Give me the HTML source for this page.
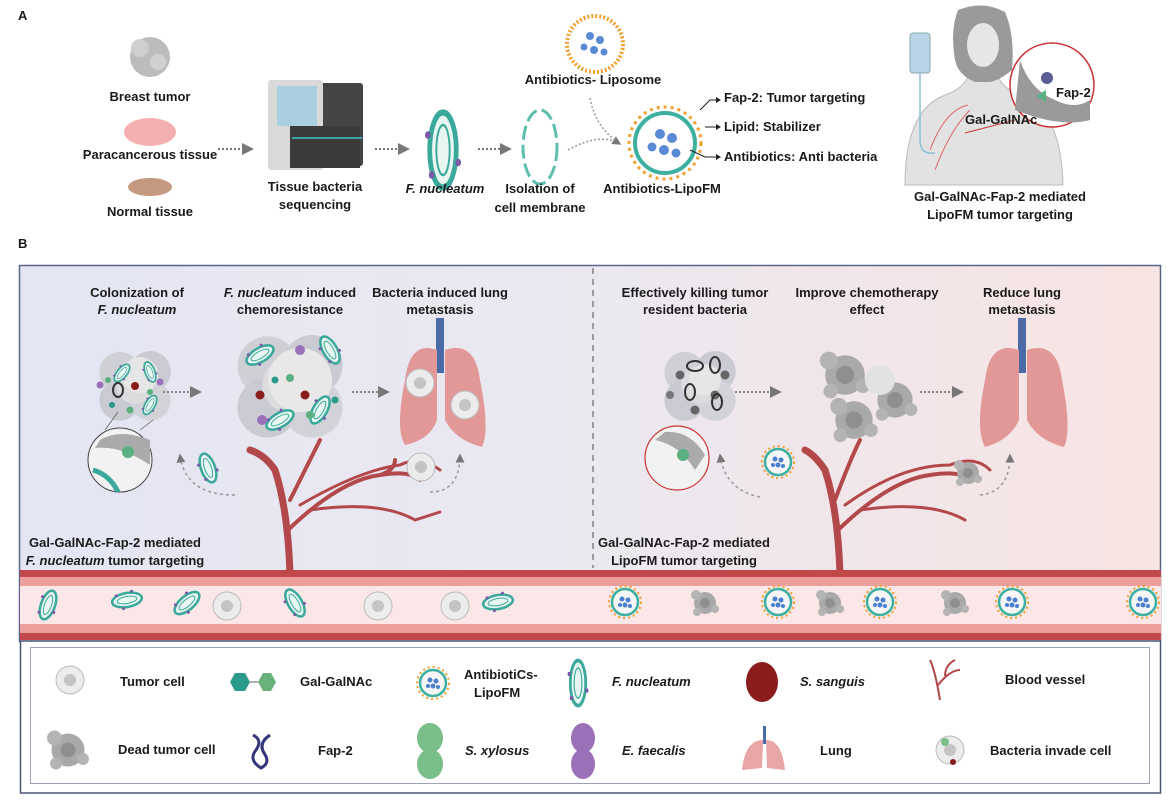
<!DOCTYPE html>
<html><head><meta charset="utf-8"><style>
html,body{margin:0;padding:0;background:#fff}
body{width:1171px;height:812px;overflow:hidden;position:relative;font-family:"Liberation Sans",sans-serif}
svg{position:absolute;left:0;top:0}
text{font-family:"Liberation Sans",sans-serif;font-weight:bold;font-size:13px;fill:#1a1a1a}
.i{font-style:italic}
</style></head><body>
<svg width="1171" height="812" viewBox="0 0 1171 812">
<defs>
<linearGradient id="bg" x1="0" x2="1" y1="0" y2="0">
<stop offset="0" stop-color="#e4e6f4"/><stop offset="0.5" stop-color="#ebe8f0"/><stop offset="1" stop-color="#f8e4e2"/>
</linearGradient>
<marker id="ar" markerWidth="6" markerHeight="6" refX="5" refY="3" orient="auto"><path d="M0,0 L6,3 L0,6z" fill="#777"/></marker>
<g id="bact"><ellipse cx="0" cy="0" rx="7" ry="15" fill="#e8f6f2" stroke="#3aa89a" stroke-width="2.5"/><ellipse cx="0" cy="0" rx="3.5" ry="10" fill="none" stroke="#3aa89a" stroke-width="1"/><circle cx="-8" cy="-6" r="1.5" fill="#7a5aa8"/><circle cx="8" cy="5" r="1.5" fill="#7a5aa8"/><circle cx="-6" cy="10" r="1.5" fill="#7a5aa8"/></g>
<g id="lipo"><circle r="13" fill="#f6f6f6" stroke="#3db0a0" stroke-width="2.5"/><circle r="16" fill="none" stroke="#f2a030" stroke-width="2" stroke-dasharray="2 3"/><circle cx="-3" cy="-3" r="2.5" fill="#4a7fd0"/><circle cx="3" cy="-2" r="2.5" fill="#4a7fd0"/><circle cx="0" cy="3" r="2.5" fill="#4a7fd0"/><circle cx="-5" cy="3" r="2" fill="#4a7fd0"/><circle cx="5" cy="4" r="2" fill="#4a7fd0"/></g>
<g id="cell"><circle r="14" fill="#ececec" stroke="#bbb" stroke-width="1"/><circle r="6" fill="#c4c4c4"/></g>
<g id="dead"><circle r="11" fill="#a9a9a9"/><circle cx="-9" cy="-8" r="5" fill="#b4b4b4"/><circle cx="10" cy="6" r="4" fill="#b4b4b4"/><circle cx="-8" cy="9" r="4" fill="#b4b4b4"/><circle r="5" fill="#8f8f8f"/></g>
<g id="cloud"><circle cx="-18" cy="-15" r="24" fill="#cfd0d6"/><circle cx="18" cy="-16" r="24" fill="#cacbd2"/><circle cx="-18" cy="18" r="24" fill="#cacbd2"/><circle cx="18" cy="18" r="24" fill="#d2d3d9"/><circle r="22" fill="#dcdcdf"/></g>
</defs>

<!-- Panel A -->
<text x="18" y="20" font-size="14">A</text>
<circle cx="150" cy="57" r="20" fill="#bcbcbc"/><circle cx="140" cy="48" r="9" fill="#cfcfcf"/><circle cx="158" cy="62" r="8" fill="#d0d0d0"/>
<text x="150" y="101" text-anchor="middle">Breast tumor</text>
<ellipse cx="150" cy="132" rx="26" ry="14" fill="#f4b0b0"/>
<text x="150" y="159" text-anchor="middle">Paracancerous tissue</text>
<ellipse cx="150" cy="187" rx="22" ry="9" fill="#c59880"/>
<text x="150" y="216" text-anchor="middle">Normal tissue</text>
<line x1="218" y1="149" x2="252" y2="149" stroke="#777" stroke-width="2" stroke-dasharray="2 2" marker-end="url(#ar)"/>
<rect x="268" y="83" width="95" height="83" rx="3" fill="#444"/>
<rect x="268" y="80" width="55" height="90" rx="3" fill="#d9d9d9"/>
<rect x="277" y="86" width="40" height="40" fill="#aad0e0"/>
<rect x="290" y="126" width="70" height="42" fill="#3a3a3a"/>
<line x1="292" y1="138" x2="362" y2="138" stroke="#3cc8d0" stroke-width="1.5"/>
<text x="315" y="191" text-anchor="middle">Tissue  bacteria</text>
<text x="315" y="209" text-anchor="middle">sequencing</text>
<line x1="375" y1="149" x2="408" y2="149" stroke="#777" stroke-width="2" stroke-dasharray="2 2" marker-end="url(#ar)"/>
<g transform="translate(443,150) scale(1.9,2.5)"><use href="#bact"/></g>
<text x="445" y="193" text-anchor="middle" class="i">F. nucleatum</text>
<line x1="478" y1="149" x2="510" y2="149" stroke="#777" stroke-width="2" stroke-dasharray="2 2" marker-end="url(#ar)"/>
<ellipse cx="540" cy="147" rx="17" ry="37" fill="none" stroke="#5fbfae" stroke-width="3" stroke-dasharray="14 5"/>
<text x="540" y="193" text-anchor="middle">Isolation of</text>
<text x="540" y="212" text-anchor="middle">cell membrane</text>
<path d="M568,150 Q600,132 620,144" fill="none" stroke="#999" stroke-width="1.5" stroke-dasharray="2 2" marker-end="url(#ar)"/>
<path d="M590,98 Q595,125 615,140" fill="none" stroke="#999" stroke-width="1.5" stroke-dasharray="2 2"/>
<circle cx="595" cy="44" r="28" fill="#fff" stroke="#f2a030" stroke-width="4" stroke-dasharray="2 2"/>
<circle cx="590" cy="36" r="4" fill="#5a8ad6"/><circle cx="600" cy="40" r="4" fill="#5a8ad6"/><circle cx="594" cy="50" r="4" fill="#5a8ad6"/><circle cx="584" cy="47" r="3.5" fill="#5a8ad6"/><circle cx="604" cy="52" r="3.5" fill="#5a8ad6"/>
<text x="593" y="84" text-anchor="middle">Antibiotics- Liposome</text>
<circle cx="665" cy="143" r="30" fill="#fff" stroke="#3db0a0" stroke-width="4"/>
<circle cx="665" cy="143" r="36" fill="none" stroke="#f2a030" stroke-width="3" stroke-dasharray="3 4"/>
<circle cx="660" cy="134" r="5" fill="#5a8ad6"/><circle cx="672" cy="138" r="5" fill="#5a8ad6"/><circle cx="664" cy="150" r="5" fill="#5a8ad6"/><circle cx="652" cy="147" r="4.5" fill="#5a8ad6"/><circle cx="676" cy="153" r="4.5" fill="#5a8ad6"/>
<text x="662" y="193" text-anchor="middle">Antibiotics-LipoFM</text>
<path d="M700,110 L710,100 L716,100" stroke="#222" fill="none"/><path d="M716,97 L721,100 L716,103z" fill="#222"/>
<line x1="705" y1="127" x2="717" y2="127" stroke="#222"/><path d="M716,124 L721,127 L716,130z" fill="#222"/>
<path d="M690,150 L705,157 L716,157" stroke="#222" fill="none"/><path d="M716,154 L721,157 L716,160z" fill="#222"/>
<text x="724" y="102">Fap-2: Tumor targeting</text>
<text x="724" y="131">Lipid: Stabilizer</text>
<text x="724" y="161">Antibiotics: Anti bacteria</text>
<path d="M905,185 Q905,110 945,95 Q965,88 968,75 L998,75 Q1001,88 1021,95 Q1061,110 1063,185z" fill="#e2e2e2" stroke="#bbb"/>
<path d="M958,10 Q983,0 1005,12 Q1015,35 1012,70 Q1000,80 990,82 L975,82 Q958,75 955,60 Q950,30 958,10z" fill="#9a9a9a"/>
<ellipse cx="983" cy="45" rx="16" ry="22" fill="#e6e6e6"/>
<rect x="910" y="33" width="20" height="40" rx="3" fill="#b8d4e6" stroke="#8aa"/>
<path d="M920,73 L920,140 Q920,155 935,153" fill="none" stroke="#8cc0d8" stroke-width="1.5"/>
<path d="M930,150 Q945,110 968,105 M935,170 Q950,130 970,110" fill="none" stroke="#d66" stroke-width="1"/>
<circle cx="1052" cy="85" r="42" fill="#fff" stroke="#c33" stroke-width="1.5"/>
<path d="M1020,60 Q1030,90 1055,100 Q1075,110 1090,100 L1090,120 Q1060,128 1015,110z" fill="#9a9a9a"/>
<path d="M1036,96 L1046,90 L1046,102z" fill="#5ab080"/>
<circle cx="1047" cy="78" r="6" fill="#32357a" opacity="0.8"/>
<line x1="965" y1="133" x2="1015" y2="120" stroke="#c33"/>
<text x="965" y="124">Gal-GalNAc</text>
<text x="1056" y="97">Fap-2</text>
<text x="1000" y="201" text-anchor="middle">Gal-GalNAc-Fap-2 mediated</text>
<text x="1000" y="219" text-anchor="middle">LipoFM tumor targeting</text>

<!-- Panel B -->
<text x="18" y="248" font-size="14">B</text>
<rect x="19.5" y="265.5" width="1141" height="376" fill="url(#bg)" stroke="#5a6488" stroke-width="1.5"/>
<line x1="593" y1="268" x2="593" y2="568" stroke="#666" stroke-width="1.2" stroke-dasharray="6 5"/>
<text x="137" y="297" text-anchor="middle">Colonization of</text>
<text x="137" y="314" text-anchor="middle" class="i">F. nucleatum</text>
<text x="290" y="297" text-anchor="middle"><tspan class="i">F. nucleatum</tspan> induced</text>
<text x="290" y="314" text-anchor="middle">chemoresistance</text>
<text x="440" y="297" text-anchor="middle">Bacteria induced lung</text>
<text x="440" y="314" text-anchor="middle">metastasis</text>
<text x="695" y="297" text-anchor="middle">Effectively killing tumor</text>
<text x="695" y="314" text-anchor="middle">resident bacteria</text>
<text x="867" y="297" text-anchor="middle">Improve chemotherapy</text>
<text x="867" y="314" text-anchor="middle">effect</text>
<text x="1022" y="297" text-anchor="middle">Reduce lung</text>
<text x="1022" y="314" text-anchor="middle">metastasis</text>
<text x="115" y="547" text-anchor="middle">Gal-GalNAc-Fap-2 mediated</text>
<text x="115" y="565" text-anchor="middle"><tspan class="i">F. nucleatum</tspan> tumor targeting</text>
<text x="684" y="547" text-anchor="middle">Gal-GalNAc-Fap-2 mediated</text>
<text x="684" y="565" text-anchor="middle">LipoFM tumor targeting</text>

<!-- left tumor -->
<g transform="translate(135,385) scale(0.85)"><use href="#cloud"/></g><circle cx="140" cy="375" r="18" fill="#e6e6e6"/>
<circle cx="135" cy="386" r="4" fill="#8b1c1c"/>
<g transform="translate(122,373) rotate(40) scale(0.7)"><use href="#bact"/></g><g transform="translate(150,372) rotate(-20) scale(0.7)"><use href="#bact"/></g><g transform="translate(150,405) rotate(30) scale(0.7)"><use href="#bact"/></g>
<ellipse cx="118" cy="390" rx="5" ry="7" fill="none" stroke="#333" stroke-width="2"/>
<circle cx="108" cy="380" r="3" fill="#5ab080"/><circle cx="150" cy="392" r="3" fill="#5ab080"/><circle cx="130" cy="410" r="3.5" fill="#5ab080"/><circle cx="100" cy="385" r="3.5" fill="#9a70b8"/><circle cx="160" cy="382" r="3.5" fill="#9a70b8"/><circle cx="112" cy="405" r="3" fill="#2a9a8a"/>
<circle cx="120" cy="460" r="32" fill="#f2f2f2" stroke="#444" stroke-width="1"/>
<path d="M95,448 Q120,445 150,465 L150,440 Q120,428 100,440z" fill="#aaa"/>
<circle cx="128" cy="452" r="6" fill="#5ab080"/>
<path d="M93,470 Q110,475 118,492" stroke="#3aa89a" stroke-width="5" fill="none"/>
<line x1="105" y1="430" x2="118" y2="412" stroke="#555" stroke-width="0.7"/><line x1="140" y1="430" x2="153" y2="420" stroke="#555" stroke-width="0.7"/>
<line x1="163" y1="392" x2="200" y2="392" stroke="#888" stroke-width="2" stroke-dasharray="2 2" marker-end="url(#ar)"/>
<g transform="translate(208,468) rotate(-20)"><use href="#bact"/></g>
<path d="M235,495 Q185,495 180,455" fill="none" stroke="#999" stroke-width="1.5" stroke-dasharray="3 3" marker-end="url(#ar)"/>
<!-- middle tumor -->
<g transform="translate(290,385) scale(1.25)"><use href="#cloud"/></g><circle cx="300" cy="380" r="32" fill="#e8e8e8"/>
<circle cx="260" cy="395" r="4.5" fill="#8b1c1c"/><circle cx="305" cy="395" r="4.5" fill="#8b1c1c"/>
<g transform="translate(260,355) rotate(60)"><use href="#bact"/></g><g transform="translate(330,350) rotate(-30)"><use href="#bact"/></g><g transform="translate(320,410) rotate(30)"><use href="#bact"/></g><g transform="translate(280,420) rotate(60)"><use href="#bact"/></g>
<circle cx="262" cy="420" r="5" fill="#9a70b8"/><circle cx="300" cy="350" r="5" fill="#9a70b8"/><circle cx="310" cy="415" r="4" fill="#5ab080"/><circle cx="290" cy="378" r="4" fill="#5ab080"/><circle cx="275" cy="380" r="3.5" fill="#2a9a8a"/><circle cx="335" cy="400" r="3.5" fill="#2a9a8a"/>
<line x1="352" y1="392" x2="388" y2="392" stroke="#888" stroke-width="2" stroke-dasharray="2 2" marker-end="url(#ar)"/>
<g fill="none" stroke="#b3484a" stroke-linecap="round">
<path d="M290,575 Q288,510 275,470 Q265,455 250,450" stroke-width="7"/>
<path d="M288,530 Q340,480 380,475 Q410,470 420,480 M380,475 Q395,470 395,460" stroke-width="4"/>
<path d="M300,505 Q360,470 400,465 Q420,455 440,470" stroke-width="3"/>
<path d="M290,500 Q310,460 320,440" stroke-width="4"/>
<path d="M310,510 Q380,500 415,520 L440,512" stroke-width="3"/>
</g>
<rect x="436" y="318" width="8" height="55" fill="#4a6aa8"/>
<path d="M437,350 Q410,340 405,380 Q395,430 405,445 Q430,440 437,420z" fill="#e39898"/>
<path d="M445,350 Q475,340 480,380 Q490,430 482,447 Q455,440 445,420z" fill="#e39898"/>
<use href="#cell" x="420" y="383"/><use href="#cell" x="465" y="405"/>
<use href="#cell" x="421" y="467"/>
<path d="M430,492 Q460,492 460,455" fill="none" stroke="#999" stroke-width="1.5" stroke-dasharray="3 3" marker-end="url(#ar)"/>

<!-- right tumor -->
<g transform="translate(700,385) scale(0.85)"><use href="#cloud"/></g><circle cx="705" cy="380" r="16" fill="#e6e6e6"/>
<circle cx="680" cy="375" r="4.5" fill="#666"/><circle cx="715" cy="395" r="4.5" fill="#666"/><circle cx="725" cy="375" r="4.5" fill="#666"/><circle cx="695" cy="410" r="4.5" fill="#666"/><circle cx="670" cy="395" r="4" fill="#777"/>
<ellipse cx="695" cy="366" rx="8" ry="5" fill="none" stroke="#333" stroke-width="2"/><ellipse cx="715" cy="365" rx="5" ry="8" fill="none" stroke="#333" stroke-width="2"/><ellipse cx="690" cy="392" rx="5" ry="8" fill="none" stroke="#333" stroke-width="2"/><ellipse cx="717" cy="402" rx="5" ry="8" fill="none" stroke="#333" stroke-width="2"/>
<circle cx="677" cy="458" r="32" fill="#f2f2f2" stroke="#c33" stroke-width="1.2"/>
<path d="M655,440 Q680,445 695,470 L705,455 Q690,430 665,432z" fill="#aaa"/>
<circle cx="683" cy="455" r="6" fill="#5ab080"/>
<line x1="735" y1="392" x2="780" y2="392" stroke="#888" stroke-width="2" stroke-dasharray="2 2" marker-end="url(#ar)"/>
<use href="#lipo" x="778" y="462"/>
<path d="M760,497 Q725,490 720,455" fill="none" stroke="#999" stroke-width="1.5" stroke-dasharray="3 3" marker-end="url(#ar)"/>
<g transform="translate(845,375) scale(1.8)"><use href="#dead"/></g>
<g transform="translate(895,400) scale(1.6)"><use href="#dead"/></g>
<g transform="translate(854,420) scale(1.7)"><use href="#dead"/></g>
<circle cx="880" cy="380" r="15" fill="#e2e2e2"/>
<line x1="920" y1="392" x2="962" y2="392" stroke="#888" stroke-width="2" stroke-dasharray="2 2" marker-end="url(#ar)"/>
<g fill="none" stroke="#b3484a" stroke-linecap="round">
<path d="M840,575 Q838,510 825,470 Q815,455 805,450" stroke-width="7"/>
<path d="M838,530 Q890,480 930,475 Q960,470 970,480" stroke-width="4"/>
<path d="M845,505 Q900,465 950,465 Q975,455 990,470" stroke-width="3"/>
<path d="M835,500 Q850,460 860,440" stroke-width="4"/>
<path d="M860,510 Q930,500 965,520" stroke-width="3"/>
</g>
<rect x="1018" y="318" width="8" height="55" fill="#4a6aa8"/>
<path d="M1019,350 Q990,340 985,380 Q975,430 985,447 Q1010,440 1019,420z" fill="#e39898"/>
<path d="M1027,350 Q1057,340 1062,380 Q1072,430 1064,447 Q1037,440 1027,420z" fill="#e39898"/>
<g transform="translate(968,473)"><use href="#dead"/></g>
<path d="M980,495 Q1010,492 1010,455" fill="none" stroke="#999" stroke-width="1.5" stroke-dasharray="3 3" marker-end="url(#ar)"/>

<!-- vessel -->
<rect x="20" y="570" width="1141" height="70" fill="#fbe7e8"/>
<rect x="20" y="570" width="1141" height="7" fill="#c2494b"/>
<rect x="20" y="577" width="1141" height="9" fill="#ee9e9c"/>
<rect x="20" y="624" width="1141" height="9" fill="#ee9e9c"/>
<rect x="20" y="633" width="1141" height="7" fill="#c2494b"/>
<g transform="translate(48,605) rotate(20)"><use href="#bact"/></g>
<g transform="translate(127,600) rotate(80)"><use href="#bact"/></g>
<g transform="translate(187,603) rotate(50)"><use href="#bact"/></g>
<use href="#cell" x="227" y="606"/>
<g transform="translate(295,603) rotate(-30)"><use href="#bact"/></g>
<use href="#cell" x="378" y="606"/><use href="#cell" x="455" y="606"/>
<g transform="translate(498,602) rotate(80)"><use href="#bact"/></g>
<use href="#lipo" x="625" y="602"/><use href="#dead" x="705" y="603"/><use href="#lipo" x="778" y="602"/><use href="#dead" x="830" y="603"/><use href="#lipo" x="880" y="602"/><use href="#dead" x="955" y="603"/><use href="#lipo" x="1012" y="602"/><use href="#lipo" x="1143" y="602"/>

<!-- legend -->
<rect x="20.5" y="641" width="1140" height="152" fill="#fff" stroke="#4a5478" stroke-width="1.5"/>
<rect x="30.5" y="647.5" width="1119" height="136" fill="#fff" stroke="#9aa0b8"/>
<use href="#cell" x="70" y="680"/><text x="120" y="686">Tumor cell</text>
<path d="M230,682 l5,-9 h10 l5,9 l-5,9 h-10z" fill="#2a9a8a"/><line x1="250" y1="682" x2="258" y2="682" stroke="#666"/><path d="M258,682 l5,-9 h8 l5,9 l-5,9 h-8z" fill="#6ab07a"/>
<text x="300" y="686">Gal-GalNAc</text>
<use href="#lipo" x="433" y="683"/><text x="464" y="679">AntibiotiCs-</text><text x="474" y="697">LipoFM</text>
<g transform="translate(578,683) scale(1.1,1.5)"><use href="#bact"/></g><text x="612" y="686" class="i">F. nucleatum</text>
<ellipse cx="762" cy="682" rx="16" ry="20" fill="#8b1c1c"/><text x="800" y="686" class="i">S. sanguis</text>
<path d="M940,700 Q935,670 930,660 M938,685 Q950,670 960,670 M945,676 Q945,665 955,660" stroke="#b3484a" stroke-width="2" fill="none"/><text x="1005" y="684">Blood vessel</text>
<g transform="translate(68,750) scale(1.5)"><use href="#dead"/></g><text x="118" y="754">Dead tumor cell</text>
<path d="M253,735 q10,5 3,15 q-8,10 5,18 q10,-5 3,-15 q-6,-10 6,-18" stroke="#32357a" stroke-width="3" fill="none"/><text x="318" y="755">Fap-2</text>
<ellipse cx="430" cy="738" rx="13" ry="15" fill="#7abf8a"/><ellipse cx="430" cy="764" rx="13" ry="15" fill="#7abf8a"/><text x="465" y="755" class="i">S. xylosus</text>
<ellipse cx="583" cy="738" rx="12" ry="15" fill="#9a70b8"/><ellipse cx="583" cy="764" rx="12" ry="15" fill="#9a70b8"/><text x="622" y="755" class="i">E. faecalis</text>
<rect x="763" y="726" width="3" height="18" fill="#4a6aa8"/><path d="M763,740 Q745,740 742,770 L762,768z M766,740 Q782,740 785,770 L767,768z" fill="#e8a5a5"/><text x="820" y="755">Lung</text>
<use href="#cell" x="950" y="750"/><circle cx="945" cy="742" r="4" fill="#7abf8a"/><circle cx="953" cy="762" r="3" fill="#8b1c1c"/><text x="990" y="755">Bacteria invade cell</text>
</svg>
</body></html>
